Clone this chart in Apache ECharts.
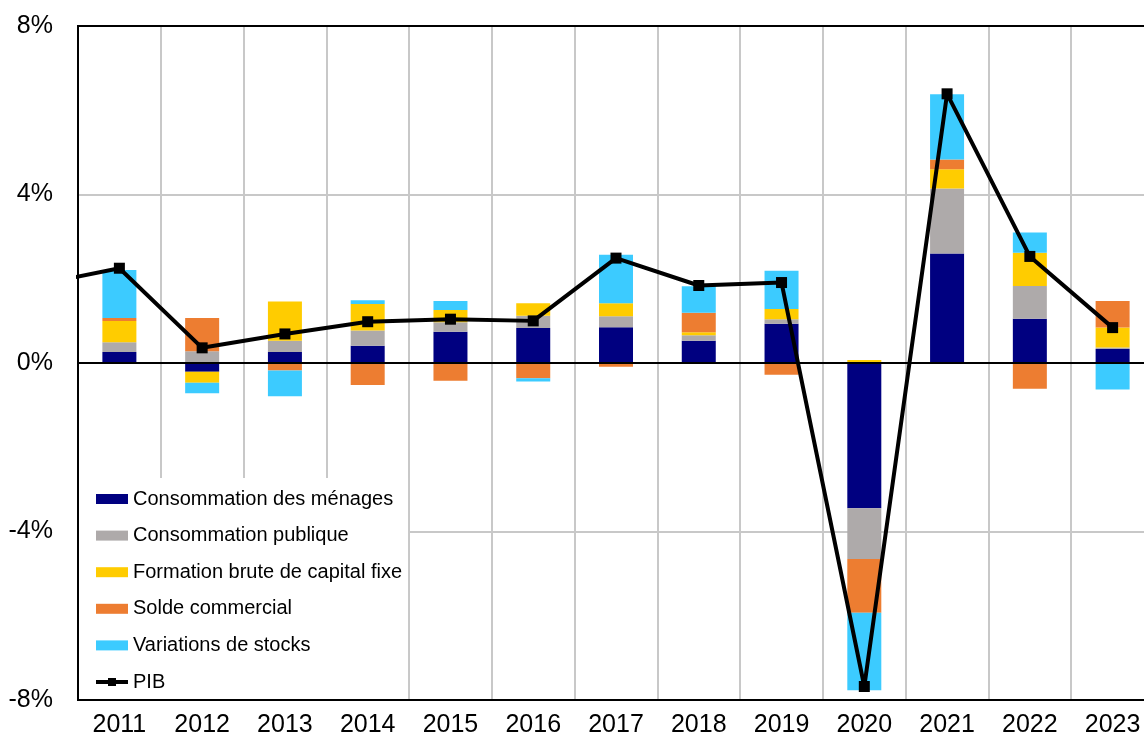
<!DOCTYPE html>
<html>
<head>
<meta charset="utf-8">
<script src="https://cdn.jsdelivr.net/npm/echarts@6/dist/echarts.min.js"></script>
<style>
  html, body { margin: 0; padding: 0; background: #fff; }
  #chart { width: 1144px; height: 736px; }
</style>
</head>
<body>
<div id="chart"></div>
<script>
var years = ['2011', '2012', '2013', '2014', '2015', '2016', '2017', '2018', '2019', '2020', '2021', '2022', '2023'];

// contributions a la croissance du PIB, en points de %
var menages  = [0.26, -0.21, 0.26, 0.41, 0.74, 0.83, 0.85, 0.53, 0.93, -3.45, 2.60, 1.05, 0.33];
var publique = [0.23, 0.28, 0.27, 0.36, 0.23, 0.29, 0.26, 0.13, 0.11, -1.20, 1.54, 0.78, 0.04];
var fbcf     = [0.51, -0.26, 0.93, 0.63, 0.29, 0.30, 0.31, 0.07, 0.24, 0.07, 0.46, 0.79, 0.47];
var solde    = [0.07, 0.79, -0.18, -0.52, -0.42, -0.36, -0.09, 0.46, -0.28, -1.28, 0.23, -0.61, 0.63];
var stocks   = [1.14, -0.25, -0.61, 0.09, 0.21, -0.08, 1.15, 0.63, 0.91, -1.84, 1.55, 0.48, -0.63];
var pib      = [2.25, 0.36, 0.69, 0.98, 1.04, 1.00, 2.49, 1.84, 1.91, -7.68, 6.39, 2.53, 0.84];

// annee precedente : seul le segment entrant par la gauche est visible
var pibPrevYear = 2010;
var pibPrev = 1.85;

var names = ['Consommation des ménages', 'Consommation publique', 'Formation brute de capital fixe', 'Solde commercial', 'Variations de stocks'];
var colors = ['#000080', '#AEAAAA', '#FFCC00', '#ED7D31', '#3CCBFF'];
var values = [menages, publique, fbcf, solde, stocks];

var font = 'Arial, "Liberation Sans", sans-serif';

var myChart = echarts.init(document.getElementById('chart'), null, {renderer: 'canvas'});

var series = [];
names.forEach(function(n, i){
    var s = {
        name: n,
        type: 'bar',
        stack: 'contrib',
        barWidth: 34,
        data: values[i],
        itemStyle: {color: colors[i]},
        emphasis: {disabled: true}
    };
    if (i == names.length - 1) {
        s.markLine = {
            silent: true,
            symbol: 'none',
            label: {show: false},
            lineStyle: {color: '#000', width: 2, type: 'solid'},
            data: [{yAxis: 0}]
        };
    }
    series.push(s);
});

var lineData = [[pibPrevYear, pibPrev]];
years.forEach(function(y, i){
    lineData.push([+y, pib[i]]);
});

series.push({
    name: 'PIB',
    type: 'line',
    xAxisIndex: 1,
    data: lineData,
    clip: true,
    symbol: 'rect',
    symbolSize: 11,
    z: 5,
    itemStyle: {color: '#000'},
    lineStyle: {color: '#000', width: 4},
    emphasis: {disabled: true}
});

var option = {
    animation: false,
    backgroundColor: '#fff',
    grid: {
        left: 78, top: 26, width: 1076, height: 674,
        outerBoundsMode: 'none',
        containLabel: false,
        z: 10,
        show: true, borderColor: '#000', borderWidth: 2,
        backgroundColor: 'transparent'
    },
    legend: {
        orient: 'vertical',
        left: 79, top: 478,
        padding: [11, 6, 8, 15],
        backgroundColor: '#fff',
        itemWidth: 32, itemHeight: 10, itemGap: 16.6,
        selectedMode: false,
        textStyle: {fontFamily: font, fontSize: 20, lineHeight: 20, color: '#000'},
        data: [
            {name: names[0], icon: 'rect'},
            {name: names[1], icon: 'rect'},
            {name: names[2], icon: 'rect'},
            {name: names[3], icon: 'rect'},
            {name: names[4], icon: 'rect'},
            {name: 'PIB', itemStyle: {color: '#000'}, lineStyle: {color: '#000', width: 4}}
        ]
    },
    xAxis: [{
        type: 'category',
        data: years,
        position: 'bottom',
        axisLine: {show: false, onZero: false},
        axisTick: {show: false},
        splitLine: {show: true, interval: 0, lineStyle: {color: '#C8C8C8', width: 2}},
        axisLabel: {interval: 0, margin: 13, fontFamily: font, fontSize: 25, color: '#000'}
    }, {
        type: 'value',
        min: 2010.5, max: 2023.5,
        show: false
    }],
    yAxis: {
        type: 'value',
        min: -8, max: 8, interval: 4,
        axisLine: {show: false},
        axisTick: {show: false},
        splitLine: {show: true, lineStyle: {color: '#C8C8C8', width: 2}},
        axisLabel: {margin: 25, fontFamily: font, fontSize: 25, color: '#000', formatter: '{value}%'}
    },
    series: series
};

myChart.setOption(option);
</script>
</body>
</html>
